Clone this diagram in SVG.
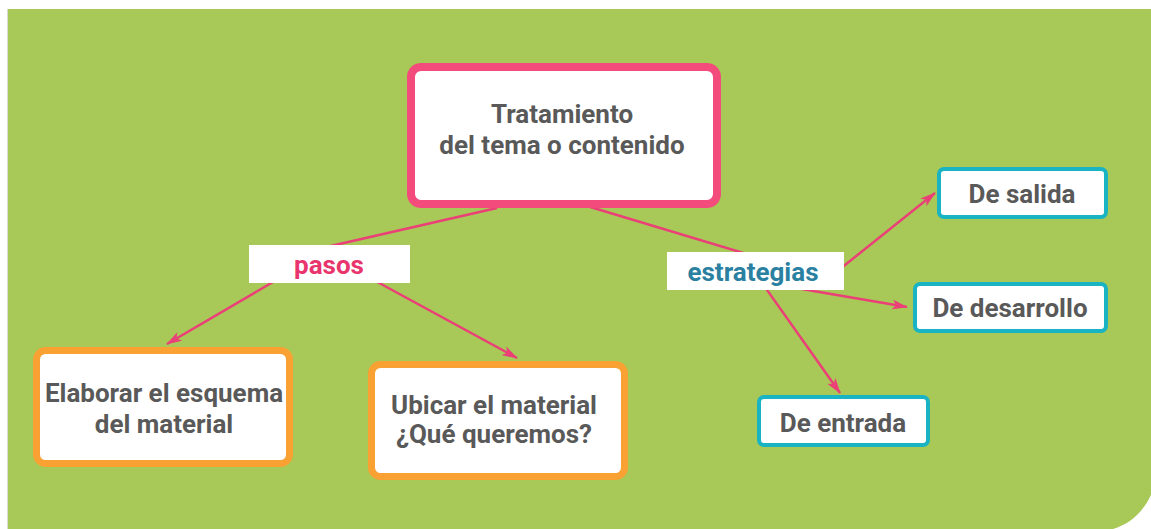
<svg xmlns="http://www.w3.org/2000/svg" width="1151" height="529" viewBox="0 0 1151 529">
<style>
.t{font-family:Roboto,"Liberation Sans",sans-serif;font-weight:bold;font-size:26px;fill:#595959;text-anchor:middle}
.lbl{font-family:Roboto,"Liberation Sans",sans-serif;font-weight:bold;font-size:26px;text-anchor:middle}
.box{fill:#fff}
.main{stroke:#F34B7B;stroke-width:8}
.org{stroke:#F9A133;stroke-width:7}
.teal{stroke:#19B3C3;stroke-width:4}
.c{stroke:#EB3F78;stroke-width:2.5;fill:none}
</style>
<defs>
<marker id="ah" viewBox="0 0 16 10" refX="15" refY="5" markerWidth="16" markerHeight="10" markerUnits="userSpaceOnUse" orient="auto">
<path d="M0,0 L16,5 L0,10 L4,5 z" fill="#EB3F78"/>
</marker>
</defs>
<path d="M7,9 H1151 V495 C1143,512 1130,524 1113,529 H7 Z" fill="#A8C957"/>
<line x1="7.5" y1="9" x2="7.5" y2="529" stroke="#d8dccf" stroke-width="1"/>
<g id="connectors">
<line class="c" x1="497" y1="208" x2="300" y2="253"/>
<line class="c" x1="587" y1="206" x2="760" y2="258"/>
<line class="c" x1="285" y1="275" x2="167" y2="344" marker-end="url(#ah)"/>
<line class="c" x1="370" y1="278" x2="517" y2="358" marker-end="url(#ah)"/>
<line class="c" x1="820" y1="285" x2="935" y2="193" marker-end="url(#ah)"/>
<line class="c" x1="790" y1="287" x2="907" y2="307" marker-end="url(#ah)"/>
<line class="c" x1="760" y1="280" x2="840" y2="393" marker-end="url(#ah)"/>
</g>
<g id="node-main">
<rect class="box main" x="411" y="67" width="306" height="137" rx="10"/>
<text class="t" x="562" y="123">Tratamiento</text>
<text class="t" x="562" y="154">del tema o contenido</text>
</g>
<g id="label-pasos">
<rect class="box" x="249" y="245" width="161" height="38"/>
<text class="lbl" x="329" y="274" fill="#E8356D">pasos</text>
</g>
<g id="label-estrategias">
<rect class="box" x="667" y="252" width="177" height="38"/>
<text class="lbl" x="753" y="281" fill="#2A80A1">estrategias</text>
</g>
<g id="node-elaborar">
<rect class="box org" x="36.5" y="350.5" width="253" height="113" rx="9"/>
<text class="t" x="164" y="402">Elaborar el esquema</text>
<text class="t" x="164" y="433">del material</text>
</g>
<g id="node-ubicar">
<rect class="box org" x="371.5" y="364.5" width="253" height="112" rx="9"/>
<text class="t" x="494" y="414">Ubicar el material</text>
<text class="t" x="494" y="443">¿Qué queremos?</text>
</g>
<g id="node-salida">
<rect class="box teal" x="939" y="169" width="167" height="48" rx="5"/>
<text class="t" x="1022" y="203">De salida</text>
</g>
<g id="node-desarrollo">
<rect class="box teal" x="915" y="284" width="191" height="47" rx="5"/>
<text class="t" x="1010" y="317">De desarrollo</text>
</g>
<g id="node-entrada">
<rect class="box teal" x="759" y="397" width="169" height="48" rx="5"/>
<text class="t" x="843" y="432">De entrada</text>
</g>
</svg>
